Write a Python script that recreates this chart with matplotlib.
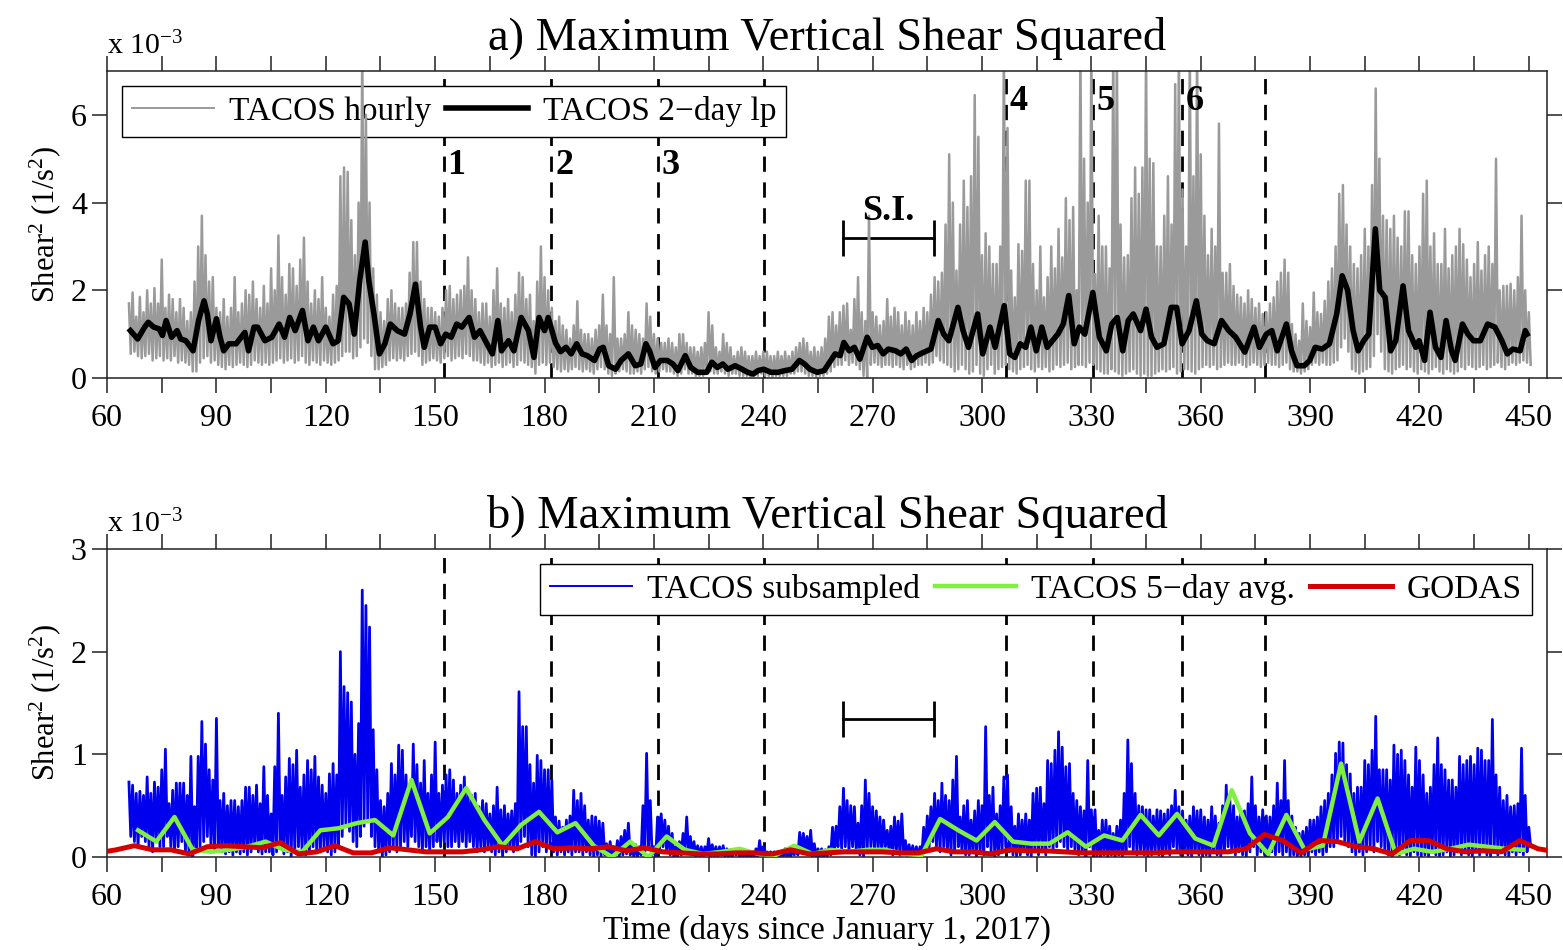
import numpy as np
import matplotlib.pyplot as plt

plt.rcParams['font.family'] = ['Liberation Serif', 'DejaVu Serif']
plt.rcParams['mathtext.fontset'] = 'custom'
plt.rcParams['mathtext.rm'] = 'Liberation Serif'
plt.rcParams['mathtext.it'] = 'Liberation Serif:italic'
plt.rcParams['mathtext.bf'] = 'Liberation Serif:bold'

# ============================
#  Data (units of 1e-3 1/s^2)
# ============================

first_day = 66  # first day of the TACOS records

# TACOS hourly: daily upper and lower envelope
hourly_hi = [
    1.7, 1.95, 1.4, 1.85, 1.5, 2.0, 1.7, 2.05, 1.7, 2.7,      # 66
    1.6, 1.9, 1.8, 1.5, 1.8, 1.6, 1.3, 1.5, 2.2, 3.0,         # 76
    3.7, 2.8, 2.2, 2.3, 1.6, 1.5, 1.8, 1.4, 1.6, 2.3,         # 86
    1.5, 1.7, 2.0, 1.9, 2.2, 1.8, 1.6, 2.1, 1.7, 2.5,         # 96
    2.0, 3.25, 2.3, 1.9, 2.6, 2.5, 2.1, 2.7, 3.2, 2.2,        # 106
    1.7, 2.0, 1.8, 2.3, 1.6, 1.4, 1.9, 2.1, 4.6, 4.8,         # 116
    4.7, 3.6, 2.8, 4.0, 7.5, 6.0, 4.0, 2.5, 1.9, 1.5,         # 126
    1.3, 1.8, 2.0, 1.7, 1.6, 1.6, 1.7, 2.4, 3.1, 3.1,         # 136
    2.2, 1.8, 1.6, 1.6, 1.5, 1.4, 1.6, 2.0, 2.1, 1.8,         # 146
    1.9, 2.0, 2.1, 2.75, 2.0, 1.8, 1.5, 1.7, 1.7, 1.4,        # 156
    2.0, 2.5, 1.7, 1.6, 1.8, 1.5, 1.9, 2.4, 2.3, 1.8,         # 166
    1.9, 1.3, 2.2, 3.0, 2.3, 2.0, 1.6, 1.3, 1.4, 1.2,         # 176
    1.1, 0.9, 1.2, 1.75, 1.1, 1.0, 1.0, 0.9, 1.1, 1.2,        # 186
    1.9, 1.2, 1.0, 2.3, 0.9, 0.9, 1.0, 1.5, 1.2, 1.1,         # 196
    1.0, 0.9, 1.7, 1.4, 1.0, 0.9, 0.8, 0.8, 0.9, 0.8,         # 206
    0.7, 1.0, 1.0, 0.8, 0.7, 0.7, 0.6, 0.7, 0.8, 1.5,         # 216
    1.2, 0.7, 0.6, 1.0, 0.8, 0.7, 0.5, 0.6, 0.7, 0.6,         # 226
    0.5, 0.5, 0.6, 0.5, 0.6, 0.6, 0.5, 0.5, 0.6, 0.5,         # 236
    0.6, 0.5, 0.6, 0.7, 0.8, 0.9, 0.8, 0.6, 0.7, 0.6,         # 246
    0.7, 0.9, 1.4, 1.5, 1.2, 1.5, 1.65, 1.7, 1.1, 1.8,        # 256
    2.3, 1.5, 1.3, 3.7, 1.5, 1.4, 1.2, 1.3, 1.8, 1.4,         # 266
    1.6, 1.5, 1.2, 1.5, 1.3, 1.2, 1.5, 1.3, 1.6, 1.5,         # 276
    1.9, 2.3, 2.2, 2.4, 3.5, 5.1, 4.0, 2.45, 3.5, 4.5,        # 286
    3.9, 4.6, 6.45, 5.5, 2.8, 3.3, 3.0, 2.6, 2.6, 3.0,        # 296
    7.5, 5.7, 2.45, 1.84, 3.05, 2.9, 4.5, 4.5, 2.6, 2.0,      # 306
    3.0, 1.84, 2.3, 3.0, 2.5, 3.4, 2.75, 4.1, 3.6, 3.9,       # 316
    2.0, 7.5, 5.0, 4.0, 7.5, 2.37, 3.7, 3.0, 3.0, 2.5,        # 326
    7.5, 7.5, 3.5, 2.75, 2.8, 4.1, 4.8, 4.2, 4.8, 7.5,        # 336
    5.0, 4.9, 3.0, 3.0, 3.7, 4.6, 3.5, 6.7, 7.5, 4.3,         # 346
    3.0, 7.5, 4.6, 7.5, 5.1, 3.7, 2.8, 3.4, 3.0, 5.8,         # 356
    2.4, 2.4, 2.6, 2.1, 1.9, 1.84, 1.7, 2.0, 1.8, 1.6,        # 366
    1.7, 1.46, 1.5, 1.7, 1.84, 2.2, 2.4, 2.7, 2.4, 1.23,      # 376
    1.0, 0.85, 1.7, 1.3, 1.16, 1.95, 1.5, 1.46, 1.76, 2.2,    # 386
    2.5, 3.0, 4.2, 4.4, 3.5, 3.0, 2.6, 2.5, 2.8, 3.4,         # 396
    3.0, 4.4, 6.6, 5.0, 3.7, 3.6, 3.4, 3.7, 3.2, 3.0,         # 406
    3.8, 3.8, 2.8, 2.6, 3.0, 4.2, 4.5, 3.0, 3.3, 2.6,         # 416
    2.6, 3.4, 2.5, 2.8, 3.0, 3.4, 3.05, 2.7, 2.3, 2.6,        # 426
    3.1, 2.45, 2.8, 3.0, 2.6, 5.0, 2.0, 2.1, 2.1, 2.15,       # 436
    2.0, 2.3, 3.7, 2.0, 1.5,                                  # 446
]
hourly_lo = [
    0.55, 0.6, 0.5, 0.45, 0.5, 0.55, 0.4, 0.45, 0.5, 0.4,
    0.45, 0.4, 0.5, 0.35, 0.4, 0.35, 0.3, 0.15, 0.15, 0.35,
    0.45, 0.5, 0.35, 0.4, 0.3, 0.25, 0.2, 0.3, 0.25, 0.3,
    0.35, 0.3, 0.25, 0.3, 0.4, 0.35, 0.3, 0.35, 0.3, 0.35,
    0.4, 0.45, 0.35, 0.4, 0.45, 0.35, 0.4, 0.5, 0.35, 0.3,
    0.4, 0.35, 0.3, 0.4, 0.35, 0.3, 0.35, 0.4, 0.5, 0.6,
    0.6, 0.45, 0.5, 0.7, 0.9, 0.8, 0.5, 0.2, 0.2, 0.25,
    0.3, 0.4, 0.45, 0.4, 0.45, 0.4, 0.5, 0.55, 0.6, 0.5,
    0.3, 0.35, 0.4, 0.45, 0.4, 0.35, 0.45, 0.5, 0.4, 0.45,
    0.5, 0.45, 0.55, 0.5, 0.4, 0.4, 0.35, 0.3, 0.35, 0.25,
    0.3, 0.35, 0.25, 0.3, 0.35, 0.25, 0.3, 0.4, 0.35, 0.3,
    0.25, 0.1, 0.3, 0.35, 0.3, 0.35, 0.25, 0.2, 0.15, 0.2,
    0.15, 0.2, 0.25, 0.2, 0.15, 0.2, 0.15, 0.1, 0.2, 0.25,
    0.2, 0.1, 0.05, 0.1, 0.15, 0.2, 0.15, 0.1, 0.1, 0.15,
    0.1, 0.2, 0.25, 0.15, 0.1, 0.15, 0.2, 0.15, 0.15, 0.1,
    0.05, 0.1, 0.2, 0.1, 0.1, 0.05, 0.05, 0.05, 0.1, 0.15,
    0.1, 0.1, 0.15, 0.1, 0.05, 0.1, 0.1, 0.05, 0.05, 0.05,
    0.03, 0.05, 0.05, 0.1, 0.05, 0.05, 0.03, 0.05, 0.05, 0.05,
    0.05, 0.1, 0.1, 0.15, 0.15, 0.1, 0.05, 0.05, 0.03, 0.05,
    0.05, 0.1, 0.15, 0.25, 0.3, 0.3, 0.4, 0.3, 0.35, 0.3,
    0.2, 0.05, 0.0, 0.3, 0.35, 0.3, 0.25, 0.3, 0.3, 0.25,
    0.3, 0.25, 0.2, 0.3, 0.2, 0.25, 0.3, 0.3, 0.35, 0.3,
    0.35, 0.5, 0.4, 0.35, 0.3, 0.25, 0.15, 0.2, 0.3, 0.2,
    0.1, 0.15, 0.3, 0.1, 0.05, 0.2, 0.3, 0.1, 0.2, 0.25,
    0.3, 0.2, 0.15, 0.1, 0.2, 0.25, 0.3, 0.2, 0.15, 0.25,
    0.2, 0.25, 0.15, 0.2, 0.3, 0.25, 0.3, 0.35, 0.2, 0.25,
    0.3, 0.3, 0.25, 0.35, 0.3, 0.2, 0.15, 0.1, 0.1, 0.2,
    0.15, 0.1, 0.05, 0.1, 0.15, 0.2, 0.1, 0.05, 0.1, 0.05,
    0.05, 0.1, 0.15, 0.2, 0.15, 0.2, 0.25, 0.1, 0.15, 0.2,
    0.2, 0.15, 0.1, 0.2, 0.25, 0.3, 0.25, 0.3, 0.2, 0.25,
    0.3, 0.35, 0.3, 0.3, 0.35, 0.3, 0.25, 0.3, 0.35, 0.3,
    0.25, 0.3, 0.35, 0.3, 0.3, 0.25, 0.3, 0.35, 0.2, 0.15,
    0.15, 0.1, 0.15, 0.2, 0.3, 0.35, 0.3, 0.35, 0.3, 0.3,
    0.35, 0.4, 0.7, 0.9, 0.6, 0.2, 0.15, 0.1, 0.15, 0.2,
    0.25, 0.5, 1.0, 0.6, 0.2, 0.15, 0.1, 0.2, 0.25, 0.3,
    0.2, 0.25, 0.15, 0.1, 0.2, 0.15, 0.1, 0.2, 0.25, 0.15,
    0.1, 0.2, 0.15, 0.1, 0.15, 0.25, 0.2, 0.3, 0.25, 0.2,
    0.25, 0.3, 0.2, 0.25, 0.3, 0.35, 0.25, 0.2, 0.3, 0.35,
    0.3, 0.35, 0.4, 0.35, 0.3,
]

# TACOS 2-day low pass
lp_day = [
    66.4, 68.4, 70.3, 71.3, 72.8, 74.3, 75.2, 76.2, 77.7, 79.2, 80.2, 81.6, 83.6, 85.1,
    86.6, 87.5, 88.5, 90.0, 91.0, 92.0, 93.4, 95.4, 96.8, 97.8, 98.8, 100.3, 101.3,
    103.3, 105.2, 107.2, 108.7, 110.1, 111.6, 113.6, 115.1, 116.6, 118.0, 120.0, 122.0,
    123.4, 124.9, 126.4, 127.8, 129.3, 130.8, 131.8, 133.2, 134.7, 136.2, 137.7, 139.6,
    141.6, 143.1, 144.6, 146.0, 147.0, 148.5, 150.0, 151.5, 152.9, 154.4, 155.9, 157.3,
    159.3, 160.8, 162.3, 164.2, 165.7, 167.2, 168.2, 170.1, 171.6, 173.6, 175.6, 177.1,
    178.5, 180.0, 181.0, 183.0, 184.4, 185.9, 187.3, 188.8, 190.3, 191.7, 193.7, 195.1,
    196.1, 197.6, 199.5, 201.0, 203.0, 204.9, 206.4, 207.8, 208.8, 210.3, 211.8, 213.7,
    215.2, 216.6, 218.6, 220.1, 222.0, 224.5, 225.9, 227.4, 228.9, 230.3, 232.3, 234.2,
    235.7, 237.2, 238.6, 240.1, 242.1, 244.0, 246.0, 247.9, 249.9, 251.3, 252.8, 254.8,
    256.7, 258.2, 259.7, 261.1, 262.1, 263.6, 265.0, 266.5, 268.5, 269.9, 271.4, 272.9,
    274.3, 276.3, 277.7, 279.2, 280.7, 282.1, 284.1, 286.0, 288.0, 289.5, 290.9, 293.4,
    294.8, 296.3, 298.8, 300.2, 302.2, 303.6, 306.1, 307.6, 309.0, 310.5, 312.0, 313.4,
    314.9, 316.4, 317.9, 319.3, 320.8, 322.3, 323.8, 325.3, 326.7, 328.2, 330.4, 332.2,
    334.1, 335.6, 337.1, 338.6, 340.1, 341.5, 343.5, 345.0, 346.5, 348.0, 349.9, 351.9,
    353.4, 354.9, 356.8, 358.8, 360.3, 361.8, 363.7, 365.7, 367.7, 369.6, 372.1, 374.6,
    376.1, 378.0, 379.5, 381.0, 383.5, 384.9, 386.4, 388.4, 389.9, 391.4, 393.3, 395.3,
    397.3, 398.8, 400.3, 401.8, 403.2, 404.7, 406.1, 407.9, 409.1, 410.6, 412.1, 413.5,
    415.5, 417.0, 419.0, 419.9, 421.4, 422.9, 424.4, 425.9, 427.3, 428.8, 429.8, 431.8,
    433.3, 434.8, 436.7, 438.7, 440.7, 442.6, 444.1, 445.6, 447.6, 449.0, 449.5,
]
lp_val = [
    1.08, 0.89, 1.16, 1.27, 1.16, 1.12, 0.97, 1.31, 0.93, 1.08, 0.89, 0.85, 0.62, 1.31,
    1.76, 1.46, 0.85, 1.35, 0.93, 0.62, 0.78, 0.78, 0.93, 1.04, 0.62, 1.16, 1.16,
    0.85, 0.93, 1.23, 0.93, 1.38, 1.08, 1.54, 0.85, 1.16, 0.85, 1.16, 0.78,
    0.85, 1.84, 1.69, 1.0, 2.22, 3.1, 2.22, 1.46, 0.55, 0.78, 1.23, 1.08,
    1.0, 1.46, 2.14, 1.16, 0.7, 1.16, 1.16, 0.78, 1.0, 0.93, 1.23, 1.16,
    1.38, 0.93, 1.08, 0.78, 0.55, 1.31, 0.62, 0.85, 0.62, 1.38, 1.08, 0.47,
    1.38, 1.08, 1.38, 0.8, 0.6, 0.7, 0.55, 0.78, 0.55, 0.51, 0.4, 0.66,
    0.7, 0.28, 0.2, 0.4, 0.55, 0.28, 0.32, 0.78, 0.62, 0.24, 0.4, 0.4,
    0.32, 0.17, 0.51, 0.24, 0.13, 0.13, 0.36, 0.24, 0.32, 0.2, 0.28, 0.2,
    0.13, 0.09, 0.17, 0.2, 0.13, 0.13, 0.17, 0.2, 0.4, 0.32, 0.2, 0.13,
    0.17, 0.36, 0.55, 0.51, 0.81, 0.62, 0.7, 0.43, 0.93, 0.7, 0.74, 0.55,
    0.66, 0.62, 0.55, 0.66, 0.4, 0.51, 0.59, 0.66, 1.31, 1.0, 0.85, 1.61,
    1.08, 0.7, 1.46, 0.55, 1.16, 0.7, 1.65, 0.55, 0.47, 0.78, 0.7, 1.16,
    0.62, 1.16, 0.7, 0.85, 1.0, 1.23, 1.88, 0.78, 1.16, 1.0, 1.95, 0.93,
    0.62, 1.23, 1.38, 0.62, 1.31, 1.46, 1.08, 1.57, 0.93, 0.7, 0.78, 1.61,
    1.61, 0.78, 1.08, 1.76, 1.0, 0.85, 0.78, 1.31, 1.08, 0.93, 0.59, 1.16,
    0.7, 1.0, 1.08, 0.62, 1.23, 0.62, 0.28, 0.28, 0.4, 0.7, 0.66, 0.78,
    1.46, 2.33, 2.0, 1.08, 0.62, 0.85, 1.0, 3.4, 2.0, 1.84, 0.62, 0.85,
    2.1, 1.08, 0.7, 0.85, 0.4, 1.5, 0.7, 0.47, 1.31, 0.62, 0.4, 1.23,
    1.0, 0.85, 0.85, 1.23, 1.16, 0.85, 0.55, 0.66, 0.62, 1.08, 1.0,
]

# TACOS subsampled: daily upper and lower envelope
sub_hi = [
    0.73, 0.7, 0.62, 0.64, 0.6, 0.78, 0.62, 0.73, 0.68, 0.85,
    1.05, 0.52, 0.65, 0.72, 0.72, 0.72, 0.6, 0.98, 0.49, 0.98,
    1.32, 1.1, 0.85, 0.75, 1.35, 0.55, 0.62, 0.5, 0.55, 0.55,
    0.49, 0.55, 0.68, 0.68, 0.6, 0.7, 0.52, 0.88, 0.6, 0.42,
    0.88, 1.4, 0.6, 0.78, 0.96, 0.9, 1.04, 0.68, 0.8, 0.94,
    0.85, 0.98, 0.78, 0.7, 0.62, 0.81, 0.91, 0.8, 2.0, 1.66,
    1.6, 1.51, 1.0, 1.3, 2.6, 2.45, 2.24, 1.24, 0.85, 0.55,
    0.49, 0.62, 0.91, 0.8, 1.09, 1.04, 0.8, 0.68, 1.1, 0.9,
    0.72, 0.94, 0.62, 0.8, 1.12, 0.62, 0.7, 0.8, 0.85, 0.75,
    0.62, 0.7, 0.78, 0.65, 0.6, 0.62, 0.49, 0.55, 0.52, 0.42,
    0.5, 0.68, 0.46, 0.5, 0.42, 0.45, 0.52, 1.61, 1.27, 1.27,
    0.9, 0.72, 0.99, 0.94, 0.85, 0.85, 0.75, 0.39, 0.35, 0.29,
    0.36, 0.4, 0.65, 0.55, 0.62, 0.5, 0.36, 0.4, 0.39, 0.35,
    0.33, 0.13, 0.15, 0.1, 0.16, 0.2, 0.26, 0.33, 0.11, 0.12,
    0.1, 0.5, 1.01, 0.55, 0.1, 0.39, 0.42, 0.36, 0.3, 0.23,
    0.1, 0.15, 0.23, 0.39, 0.2, 0.15, 0.11, 0.1, 0.1, 0.18,
    0.12, 0.1, 0.1, 0.11, 0.08, 0.07, 0.07, 0.06, 0.05, 0.05,
    0.05, 0.05, 0.08, 0.16, 0.1, 0.05, 0.05, 0.05, 0.05, 0.05,
    0.08, 0.06, 0.07, 0.1, 0.24, 0.23, 0.2, 0.26, 0.13, 0.08,
    0.08, 0.07, 0.1, 0.29, 0.3, 0.49, 0.67, 0.55, 0.5, 0.49,
    0.33, 0.5, 0.75, 0.62, 0.49, 0.45, 0.39, 0.36, 0.26, 0.3,
    0.39, 0.35, 0.42, 0.16, 0.12, 0.11, 0.1, 0.1, 0.29, 0.4,
    0.49, 0.62, 0.55, 0.72, 0.6, 0.55, 0.75, 0.98, 0.39, 0.5,
    0.55, 0.36, 0.45, 0.55, 0.5, 1.27, 0.6, 0.68, 0.42, 0.5,
    0.78, 0.8, 0.49, 0.3, 0.42, 0.36, 0.42, 0.36, 0.62, 0.67,
    0.68, 0.52, 0.94, 0.91, 1.04, 1.22, 1.07, 0.88, 0.91, 0.62,
    0.55, 0.49, 0.45, 0.94, 0.46, 0.46, 0.26, 0.36, 0.36, 0.3,
    0.23, 0.3, 0.36, 0.62, 1.14, 0.91, 0.62, 0.5, 0.49, 0.46,
    0.46, 0.4, 0.46, 0.45, 0.42, 0.46, 0.5, 0.65, 0.49, 0.45,
    0.36, 0.4, 0.49, 0.45, 0.46, 0.39, 0.36, 0.49, 0.4, 0.33,
    0.5, 0.7, 0.55, 0.5, 0.39, 0.46, 0.45, 0.52, 0.78, 0.5,
    0.39, 0.46, 0.4, 0.39, 0.5, 0.72, 0.55, 0.94, 0.55, 0.4,
    0.29, 0.23, 0.25, 0.29, 0.36, 0.36, 0.39, 0.49, 0.55, 0.62,
    0.8, 1.01, 1.12, 1.11, 0.9, 0.81, 0.62, 0.68, 0.68, 0.94,
    0.9, 1.04, 1.37, 0.85, 0.85, 0.85, 0.75, 1.09, 1.0, 1.04,
    0.94, 0.8, 0.68, 1.07, 0.94, 0.8, 0.62, 0.68, 0.9, 1.16,
    0.9, 0.85, 0.75, 0.75, 0.68, 0.98, 0.9, 0.94, 0.98, 0.9,
    1.06, 1.04, 0.94, 0.94, 1.34, 0.8, 0.68, 0.55, 0.6, 0.49,
    0.5, 0.52, 1.06, 0.6, 0.29,
]
sub_lo = [
    0.2, 0.15, 0.1, 0.2, 0.15, 0.1, 0.05, 0.15, 0.1, 0.1,
    0.2, 0.1, 0.05, 0.1, 0.15, 0.05, 0.02, 0.0, 0.05, 0.1,
    0.15, 0.2, 0.1, 0.05, 0.1, 0.05, 0.03, 0.05, 0.02, 0.05,
    0.03, 0.05, 0.02, 0.05, 0.1, 0.05, 0.03, 0.05, 0.05, 0.02,
    0.05, 0.1, 0.03, 0.05, 0.0, 0.05, 0.1, 0.05, 0.02, 0.05,
    0.1, 0.05, 0.05, 0.1, 0.05, 0.02, 0.05, 0.1, 0.2, 0.3,
    0.25, 0.15, 0.1, 0.2, 0.3, 0.35, 0.2, 0.1, 0.05, 0.0,
    0.02, 0.05, 0.1, 0.05, 0.1, 0.15, 0.1, 0.2, 0.15, 0.1,
    0.05, 0.1, 0.05, 0.1, 0.15, 0.1, 0.15, 0.1, 0.1, 0.15,
    0.1, 0.15, 0.1, 0.15, 0.1, 0.05, 0.1, 0.05, 0.1, 0.05,
    0.02, 0.05, 0.0, 0.05, 0.1, 0.05, 0.1, 0.15, 0.2, 0.1,
    0.02, 0.0, 0.05, 0.1, 0.05, 0.1, 0.05, 0.02, 0.05, 0.02,
    0.05, 0.02, 0.05, 0.05, 0.02, 0.05, 0.02, 0.0, 0.02, 0.0,
    0.02, 0.0, 0.0, 0.02, 0.0, 0.02, 0.03, 0.02, 0.0, 0.0,
    0.02, 0.05, 0.1, 0.02, 0.0, 0.05, 0.1, 0.05, 0.02, 0.0,
    0.0, 0.02, 0.05, 0.05, 0.02, 0.0, 0.0, 0.0, 0.02, 0.0,
    0.0, 0.0, 0.02, 0.0, 0.0, 0.0, 0.02, 0.0, 0.0, 0.0,
    0.0, 0.0, 0.0, 0.02, 0.0, 0.0, 0.0, 0.0, 0.0, 0.0,
    0.0, 0.0, 0.02, 0.02, 0.05, 0.05, 0.02, 0.0, 0.0, 0.0,
    0.0, 0.0, 0.02, 0.05, 0.1, 0.08, 0.1, 0.05, 0.1, 0.05,
    0.02, 0.0, 0.05, 0.1, 0.05, 0.08, 0.05, 0.1, 0.05, 0.02,
    0.05, 0.02, 0.05, 0.0, 0.0, 0.0, 0.0, 0.02, 0.05, 0.1,
    0.15, 0.1, 0.05, 0.1, 0.05, 0.02, 0.05, 0.1, 0.05, 0.02,
    0.02, 0.05, 0.0, 0.05, 0.02, 0.1, 0.05, 0.0, 0.02, 0.05,
    0.1, 0.05, 0.02, 0.0, 0.02, 0.05, 0.02, 0.0, 0.05, 0.02,
    0.05, 0.02, 0.1, 0.05, 0.1, 0.15, 0.1, 0.05, 0.1, 0.05,
    0.02, 0.05, 0.0, 0.1, 0.05, 0.0, 0.0, 0.02, 0.0, 0.02,
    0.0, 0.02, 0.0, 0.05, 0.1, 0.05, 0.02, 0.05, 0.02, 0.0,
    0.02, 0.05, 0.02, 0.0, 0.05, 0.02, 0.1, 0.05, 0.02, 0.05,
    0.02, 0.0, 0.05, 0.02, 0.0, 0.02, 0.0, 0.05, 0.02, 0.0,
    0.05, 0.1, 0.05, 0.02, 0.05, 0.02, 0.0, 0.05, 0.1, 0.02,
    0.05, 0.02, 0.0, 0.05, 0.02, 0.05, 0.02, 0.05, 0.0, 0.02,
    0.0, 0.0, 0.02, 0.0, 0.05, 0.02, 0.05, 0.02, 0.05, 0.1,
    0.1, 0.15, 0.2, 0.15, 0.1, 0.05, 0.02, 0.05, 0.02, 0.05,
    0.1, 0.05, 0.15, 0.1, 0.05, 0.02, 0.0, 0.05, 0.02, 0.05,
    0.02, 0.0, 0.05, 0.02, 0.0, 0.02, 0.0, 0.05, 0.02, 0.0,
    0.02, 0.05, 0.0, 0.02, 0.05, 0.02, 0.05, 0.02, 0.0, 0.05,
    0.02, 0.05, 0.02, 0.0, 0.05, 0.02, 0.05, 0.02, 0.0, 0.05,
    0.02, 0.05, 0.02, 0.05, 0.1,
]

# TACOS 5-day average
avg_day = [
    68.5, 73.5, 78.5, 83.5, 88.5, 93.5, 98.5, 103.5, 108.5, 113.5, 118.5, 123.5, 128.5,
    133.5, 138.5, 143.5, 148.5, 153.5, 158.5, 163.5, 168.5, 173.5, 178.5, 183.5, 188.5,
    193.5, 198.5, 203.5, 208.5, 213.5, 218.5, 223.5, 228.5, 233.5, 238.5, 243.5, 248.5,
    253.5, 258.5, 263.5, 268.5, 273.5, 278.5, 283.5, 288.5, 293.5, 298.5, 303.5, 308.5,
    313.5, 318.5, 323.5, 328.5, 333.5, 338.5, 343.5, 348.5, 353.5, 358.5, 363.5, 368.5,
    373.5, 378.5, 383.5, 388.5, 393.5, 398.5, 403.5, 408.5, 413.5, 418.5, 423.5, 428.5,
    433.5, 438.5, 443.5, 448.5,
]
avg_val = [
    0.26, 0.15, 0.39, 0.07, 0.05, 0.07, 0.10, 0.15, 0.07, 0.05, 0.26, 0.28, 0.33,
    0.36, 0.21, 0.75, 0.23, 0.39, 0.67, 0.36, 0.11, 0.31, 0.44, 0.24, 0.33,
    0.11, 0.0, 0.15, 0.0, 0.20, 0.07, 0.03, 0.05, 0.08, 0.03, 0.02, 0.11,
    0.03, 0.07, 0.05, 0.07, 0.07, 0.03, 0.02, 0.37, 0.26, 0.16, 0.34, 0.15,
    0.13, 0.13, 0.24, 0.10, 0.21, 0.16, 0.41, 0.21, 0.42, 0.18, 0.11, 0.65,
    0.23, 0.03, 0.41, 0.07, 0.11, 0.91, 0.15, 0.57, 0.03, 0.08, 0.05, 0.08,
    0.12, 0.10, 0.08, 0.07,
]

# GODAS
godas_day = [
    57.5, 62.5, 67.5, 72.5, 77.5, 82.5, 87.5, 92.5, 97.5, 102.5, 107.5, 112.5, 117.5,
    122.5, 127.5, 132.5, 137.5, 142.5, 147.5, 152.5, 157.5, 162.5, 167.5, 172.5, 177.5,
    182.5, 187.5, 192.5, 197.5, 202.5, 207.5, 212.5, 217.5, 222.5, 227.5, 232.5, 237.5,
    242.5, 247.5, 252.5, 257.5, 262.5, 267.5, 272.5, 277.5, 282.5, 287.5, 292.5, 297.5,
    302.5, 307.5, 312.5, 317.5, 322.5, 327.5, 332.5, 337.5, 342.5, 347.5, 352.5, 357.5,
    362.5, 367.5, 372.5, 377.5, 382.5, 387.5, 392.5, 397.5, 402.5, 407.5, 412.5, 417.5,
    422.5, 427.5, 432.5, 437.5, 442.5, 447.5, 452.5, 457.5,
]
godas_val = [
    0.04, 0.07, 0.11, 0.07, 0.07, 0.03, 0.10, 0.11, 0.10, 0.09, 0.14, 0.03, 0.05,
    0.11, 0.04, 0.04, 0.09, 0.07, 0.05, 0.05, 0.05, 0.07, 0.10, 0.08, 0.15,
    0.08, 0.09, 0.08, 0.10, 0.06, 0.09, 0.05, 0.04, 0.03, 0.03, 0.04, 0.04,
    0.03, 0.07, 0.03, 0.04, 0.05, 0.05, 0.05, 0.04, 0.04, 0.08, 0.05, 0.05,
    0.03, 0.07, 0.06, 0.06, 0.05, 0.04, 0.04, 0.04, 0.04, 0.04, 0.05, 0.05,
    0.05, 0.05, 0.08, 0.22, 0.16, 0.04, 0.16, 0.15, 0.10, 0.08, 0.03, 0.16,
    0.16, 0.08, 0.05, 0.06, 0.05, 0.16, 0.08, 0.05,
]

# event markers and labels
event_days = [152.4, 181.9, 211.0, 240.3, 306.5, 330.4, 354.9, 377.7]
event_labels = ['1', '2', '3', '', '4', '5', '6', '']
event_label_y = [4.85, 4.85, 4.85, 0, 6.3, 6.3, 6.3, 0]

si_start, si_end = 261.8, 286.8   # S.I. period


def envelope(hi, lo):
    # upper and lower envelope alternate every half day
    d = first_day + np.arange(len(hi))
    x = np.column_stack([d, d + 0.5]).ravel()
    y = np.column_stack([hi, lo]).ravel()
    return x, y


def style(ax, ymax, yticks, title):
    ax.set_xlim(60, 455)
    ax.set_ylim(0, ymax)
    xt = np.arange(60, 451, 15)
    ax.set_xticks(xt)
    ax.set_xticklabels([str(t) if t % 30 == 0 else '' for t in xt])
    ax.set_yticks(yticks)
    ax.tick_params(direction='out', length=10.5, width=1.1, labelsize=23,
                   top=True, right=True, colors='#222222', labelcolor='k')
    ax.tick_params(axis='x', pad=8)
    ax.tick_params(axis='y', pad=4)
    for s in ax.spines.values():
        s.set_linewidth(1.1)
        s.set_color('#222222')
    ax.set_ylabel(r'Shear$^2$ (1/s$^2$)', fontsize=22, labelpad=6)
    ax.set_title(title, fontsize=33.5, pad=15)
    ax.text(0, 1.035, r'x 10$^{-3}$', transform=ax.transAxes, fontsize=21.5,
            va='bottom', ha='left')
    for d in event_days:
        ax.axvline(d, color='k', lw=2.0, ls=(0, (5.5, 3.8)), zorder=1.5)


def legend_box(ax, loc, ncol):
    leg = ax.legend(loc=loc, ncol=ncol, fontsize=24, fancybox=False,
                    handlelength=2.45, handletextpad=0.45, columnspacing=0.45,
                    borderpad=0.3, borderaxespad=0.45, framealpha=1)
    leg.set_zorder(2)
    leg.get_frame().set_edgecolor('k')
    leg.get_frame().set_facecolor('white')
    leg.get_frame().set_linewidth(1.0)
    leg.get_lines()[0].set_linewidth(1.4)
    return leg


fig = plt.figure(figsize=(15.63, 9.5), dpi=100)
ax1 = fig.add_axes([0.0685, 0.6021, 0.9213, 0.3232])
ax2 = fig.add_axes([0.0685, 0.0979, 0.9213, 0.3242])

# ---- panel a ----
hx, hy = envelope(hourly_hi, hourly_lo)
ax1.plot(hx, hy, color='#9a9a9a', lw=1.8, label='TACOS hourly', zorder=2.5)
ax1.plot(lp_day, lp_val, color='k', lw=4.0, label='TACOS 2\u2212day lp', zorder=3,
         solid_joinstyle='round')
style(ax1, 7, [0, 2, 4, 6], 'a) Maximum Vertical Shear Squared')

for d, lab, y in zip(event_days, event_labels, event_label_y):
    if lab:
        ax1.text(d + 1.0, y, lab, fontsize=26, fontweight='bold', ha='left', va='center')

ax1.plot([si_start, si_end], [3.2, 3.2], color='k', lw=2, marker='|', markersize=26, mew=2)
ax1.text((si_start + si_end) / 2, 3.42, 'S.I.', fontsize=26, fontweight='bold',
         ha='center', va='bottom')

legend_box(ax1, 'upper left', 2)

# ---- panel b ----
sx, sy = envelope(sub_hi, sub_lo)
ax2.plot(sx, sy, color='#0000ee', lw=2.0, label='TACOS subsampled', zorder=2.5)
ax2.plot(avg_day, avg_val, color='#80f040', lw=3.2, label='TACOS 5\u2212day avg.', zorder=3)
ax2.plot(godas_day, godas_val, color='#d40000', lw=3.6, label='GODAS', zorder=3)
style(ax2, 3, [0, 1, 2, 3], 'b) Maximum Vertical Shear Squared')

ax2.plot([si_start, si_end], [1.34, 1.34], color='k', lw=2, marker='|', markersize=26, mew=2)

legend_box(ax2, 'upper right', 3)

ax2.set_xlabel('Time (days since January 1, 2017)', fontsize=23.5, labelpad=2)

fig.savefig('out.png', dpi=100)
